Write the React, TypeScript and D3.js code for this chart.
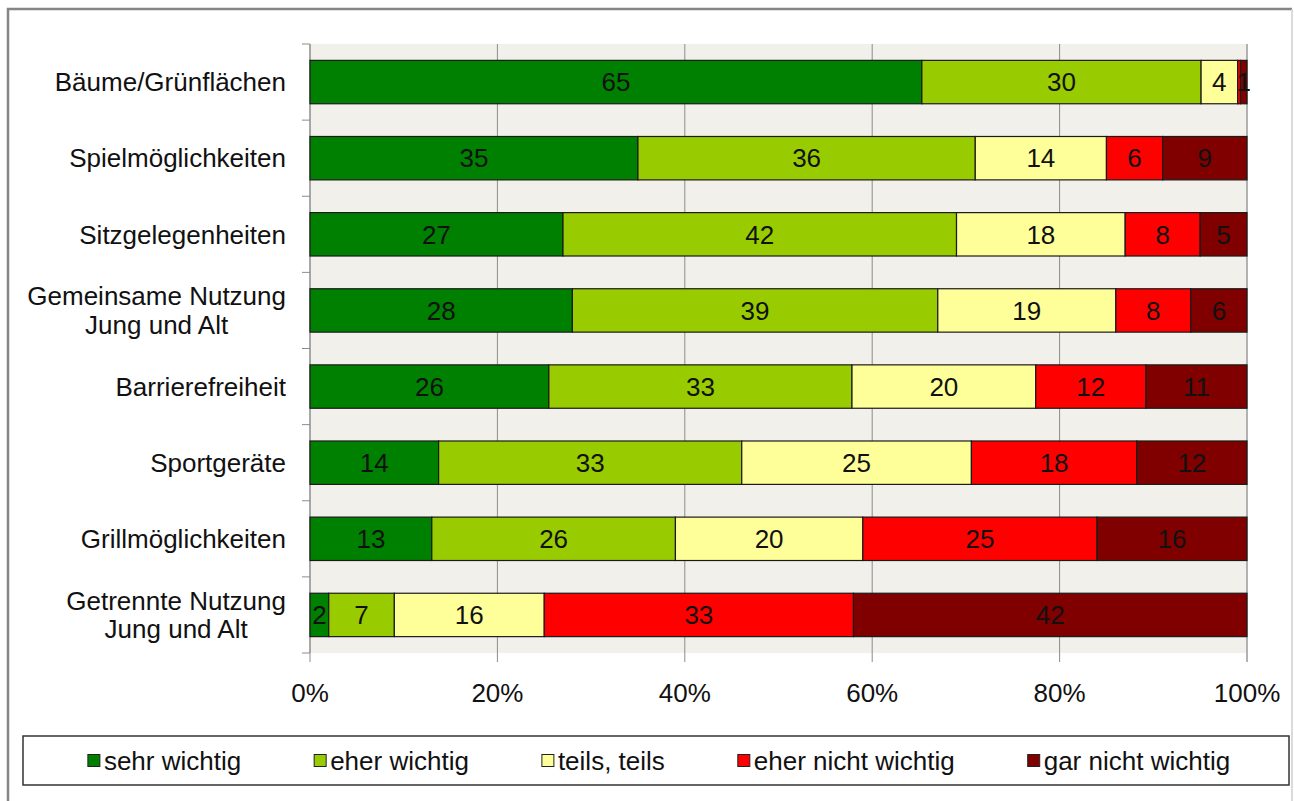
import React, { useEffect, useRef } from "react";
import * as d3 from "d3";

const categories: string[][] = [
  ["Bäume/Grünflächen"],
  ["Spielmöglichkeiten"],
  ["Sitzgelegenheiten"],
  ["Gemeinsame Nutzung", "Jung und Alt"],
  ["Barrierefreiheit"],
  ["Sportgeräte"],
  ["Grillmöglichkeiten"],
  ["Getrennte Nutzung", "Jung und Alt"],
];

const seriesNames = ["sehr wichtig", "eher wichtig", "teils, teils", "eher nicht wichtig", "gar nicht wichtig"];
const seriesColors = ["#008000", "#99CC00", "#FFFF99", "#FF0000", "#800000"];

const sehrWichtig = [65.3, 35, 27, 28, 26, 14, 13, 2];
const eherWichtig = [29.8, 36, 42, 39, 33, 33, 26, 7];
const teilsTeils = [3.9, 14, 18, 19, 20, 25, 20, 16];
const eherNichtWichtig = [0.3, 6, 8, 8, 12, 18, 25, 33];
const garNichtWichtig = [0.7, 9, 5, 6, 11, 12, 16, 42];

const xTicks = [0, 0.2, 0.4, 0.6, 0.8, 1];

const FONT = "'Liberation Sans', Arial, sans-serif";

export default function App() {
  const ref = useRef<SVGSVGElement | null>(null);

  useEffect(() => {
    const svg = d3.select(ref.current);
    svg.selectAll("*").remove();

    const H = 801;
    const left = 310, right = 1247, top = 44, bottom = 653;

    // outer frame
    svg.append("path").attr("d", `M8,801 L8,9 L1292,9`).attr("fill", "none").attr("stroke", "#858585").attr("stroke-width", 2.5);
    svg.append("line").attr("x1", 1292).attr("x2", 1292).attr("y1", 9).attr("y2", H).attr("stroke", "#cfcfcf").attr("stroke-width", 1.5);

    const x = d3.scaleLinear().domain([0, 1]).range([left, right]);
    const idx = categories.map((_, i) => String(i));
    const y = d3.scaleBand<string>().domain(idx).range([top, bottom]).paddingInner(0.43).paddingOuter(0.215);
    const step = y.step();
    const off = (step - y.bandwidth()) / 2;

    // plot background
    svg.append("rect").attr("x", left).attr("y", top).attr("width", right - left).attr("height", bottom - top).attr("fill", "#F1F0EA");

    // gridlines + bottom ticks
    svg.selectAll(".grid").data(xTicks).enter().append("line")
      .attr("x1", d => x(d)).attr("x2", d => x(d))
      .attr("y1", top).attr("y2", bottom + 9)
      .attr("stroke", d => (d === 1 ? "#a0a0a0" : "#8c8c8c")).attr("stroke-width", d => (d === 1 ? 1.6 : 1));

    // left axis + ticks
    svg.append("line").attr("x1", left).attr("x2", left).attr("y1", top).attr("y2", bottom).attr("stroke", "#8c8c8c");
    const bounds = idx.map(k => (y(k) as number) - off).concat([bottom]);
    svg.selectAll(".ytick").data(bounds).enter().append("line")
      .attr("x1", left - 8).attr("x2", left).attr("y1", d => d).attr("y2", d => d)
      .attr("stroke", "#8c8c8c");

    // stacked data
    const series = [sehrWichtig, eherWichtig, teilsTeils, eherNichtWichtig, garNichtWichtig];
    const rows = categories.map((_, i) => {
      const vals = series.map(s => s[i]);
      const total = d3.sum(vals);
      let acc = 0;
      return vals.map((v, j) => {
        const x0 = acc / total;
        acc += v;
        return { row: i, j, x0, x1: acc / total, label: Math.round(v) >= 1 ? String(Math.round(v)) : "" };
      });
    });
    const segs = rows.flat();

    const g = svg.append("g");
    g.selectAll("rect.seg").data(segs).enter().append("rect")
      .attr("x", d => x(d.x0)).attr("y", d => y(String(d.row)) as number)
      .attr("width", d => x(d.x1) - x(d.x0)).attr("height", y.bandwidth())
      .attr("fill", d => seriesColors[d.j]).attr("stroke", "#1a1a1a").attr("stroke-width", 1.2);

    g.selectAll("text.val").data(segs.filter(d => d.label !== "")).enter().append("text")
      .attr("x", d => (x(d.x0) + x(d.x1)) / 2)
      .attr("y", d => (y(String(d.row)) as number) + y.bandwidth() / 2 + 9.3)
      .attr("text-anchor", "middle").attr("font-family", FONT).attr("font-size", 26).attr("fill", "#111")
      .text(d => d.label);

    // category labels
    const lh = 28.5;
    categories.forEach((lines, i) => {
      const cy = (y(String(i)) as number) + y.bandwidth() / 2;
      const t = svg.append("text").attr("font-family", FONT).attr("font-size", 26).attr("fill", "#111");
      const spans = lines.map((ln, k) =>
        t.append("tspan").attr("y", cy + 9.3 + (k - (lines.length - 1) / 2) * lh).text(ln)
      );
      const widths = spans.map(s => (s.node() as SVGTSpanElement).getComputedTextLength());
      const maxW = d3.max(widths) as number;
      const cx = 286 - maxW / 2;
      spans.forEach(s => s.attr("x", cx).attr("text-anchor", "middle"));
    });

    // x tick labels
    svg.selectAll(".xl").data(xTicks).enter().append("text")
      .attr("x", d => x(d)).attr("y", 702).attr("text-anchor", "middle")
      .attr("font-family", FONT).attr("font-size", 26).attr("fill", "#111")
      .text(d => d3.format(".0%")(d));

    // legend
    const lx0 = 23, lx1 = 1289, ly0 = 736, ly1 = 785;
    svg.append("rect").attr("x", lx0).attr("y", ly0).attr("width", lx1 - lx0).attr("height", ly1 - ly0)
      .attr("fill", "#fff").attr("stroke", "#333").attr("stroke-width", 1.5);
    const lg = svg.append("g");
    const items = seriesNames.map((name, j) => {
      const item = lg.append("g");
      item.append("rect").attr("x", 0).attr("y", -6).attr("width", 12).attr("height", 12)
        .attr("fill", seriesColors[j]).attr("stroke", "#222").attr("stroke-width", 1);
      const tx = item.append("text").attr("x", 16).attr("y", 9.3)
        .attr("font-family", FONT).attr("font-size", 26).attr("fill", "#111").text(name);
      const w = 16 + (tx.node() as SVGTextElement).getComputedTextLength();
      return { item, w };
    });
    const gap = 73;
    const totalW = d3.sum(items, d => d.w) + gap * (items.length - 1);
    let cur = (lx0 + lx1) / 2 - totalW / 2 + 3;
    const lcy = (ly0 + ly1) / 2;
    items.forEach(({ item, w }) => {
      item.attr("transform", `translate(${cur},${lcy})`);
      cur += w + gap;
    });
  }, []);

  return (
    <svg ref={ref} width={1294} height={801}
      style={{ position: "absolute", left: 0, top: 0, background: "#fff", display: "block" }} />
  );
}
